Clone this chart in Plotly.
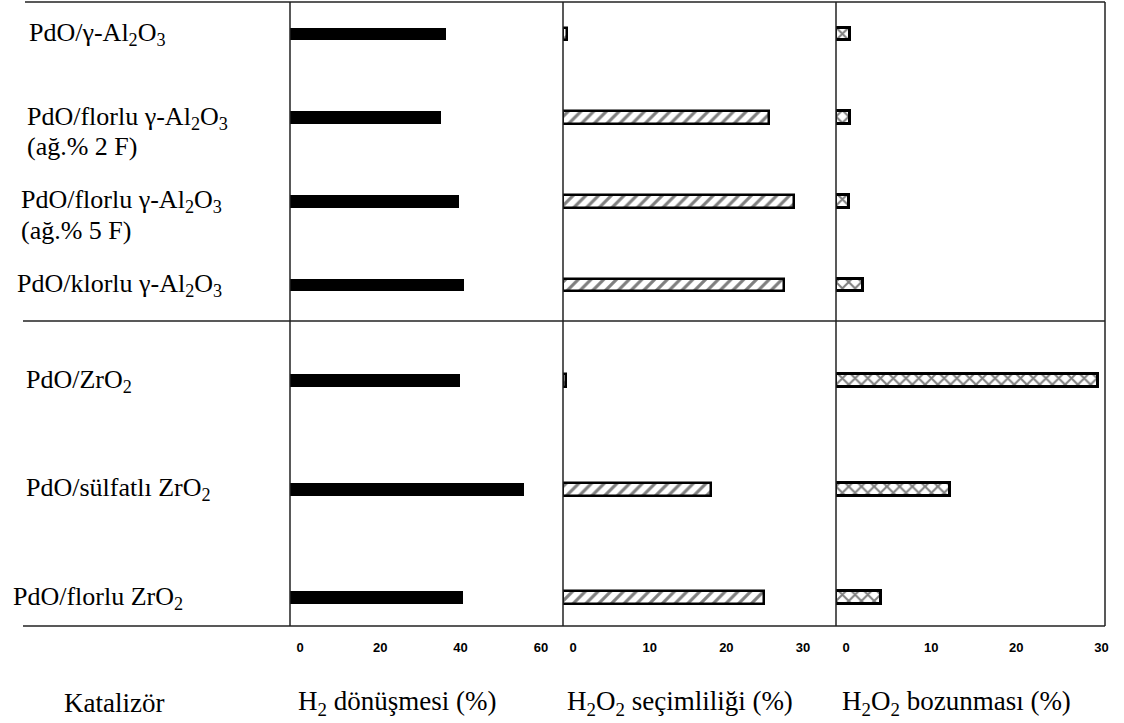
import plotly.graph_objects as go
from plotly.subplots import make_subplots

# ---- data ----
cats_top = ["PdO/γ-Al2O3", "PdO/florlu γ-Al2O3 (ağ.% 2 F)", "PdO/florlu γ-Al2O3 (ağ.% 5 F)", "PdO/klorlu γ-Al2O3"]
cats_bot = ["PdO/ZrO2", "PdO/sülfatlı ZrO2", "PdO/florlu ZrO2"]

labels_top = ["PdO/γ-Al<sub>2</sub>O<sub>3</sub>",
              "PdO/florlu γ-Al<sub>2</sub>O<sub>3</sub><br>(ağ.% 2 F)",
              "PdO/florlu γ-Al<sub>2</sub>O<sub>3</sub><br>(ağ.% 5 F)",
              "PdO/klorlu γ-Al<sub>2</sub>O<sub>3</sub>"]
labels_bot = ["PdO/ZrO<sub>2</sub>", "PdO/sülfatlı ZrO<sub>2</sub>", "PdO/florlu ZrO<sub>2</sub>"]

h2_conv_top = [38.9, 37.6, 42.1, 43.3]
h2_conv_bot = [42.3, 58.3, 43.1]
h2o2_sel_top = [0.5, 26.9, 30.1, 28.8]
h2o2_sel_bot = [0.4, 19.3, 26.2]
h2o2_dec_top = [1.6, 1.6, 1.5, 3.2]
h2o2_dec_bot = [30.8, 13.4, 5.3]

ticks_1 = [0, 20, 40, 60]
ticks_2 = [0, 10, 20, 30]
ticks_3 = [0, 10, 20, 30]

titles = ["Katalizör", "H<sub>2</sub> dönüşmesi (%)", "H<sub>2</sub>O<sub>2</sub> seçimliliği (%)",
          "H<sub>2</sub>O<sub>2</sub> bozunması (%)"]

# ---- layout geometry (pixels) ----
W, H = 1124, 723
L, R, T, B = 290, 1105, 2, 626
pw, ph = R - L, B - T
def px(x): return (x - L) / pw
def py(y): return (B - y) / ph

xs = [px(290), px(563), px(836), px(1105)]
ymid = py(321)

fig = make_subplots(rows=2, cols=3, shared_xaxes=False, horizontal_spacing=0, vertical_spacing=0)

serif = "Liberation Serif"
ranges = [[0, 68.0], [0, 35.6], [0, 31.6]]
tickvals = [ticks_1, ticks_2, ticks_3]

groups = [(cats_top, [h2_conv_top, h2o2_sel_top, h2o2_dec_top], 1, 0.15),
          (cats_bot, [h2_conv_bot, h2o2_sel_bot, h2o2_dec_bot], 2, 0.12)]

for cats, series, row, w in groups:
    for c, vals in enumerate(series):
        if c == 0:
            marker = dict(color="black", line=dict(color="black", width=0))
        elif c == 1:
            marker = dict(color="white", line=dict(color="black", width=2.5),
                          pattern=dict(shape="/", fgcolor="black", bgcolor="white", size=9, solidity=0.35))
        else:
            marker = dict(color="white", line=dict(color="black", width=3),
                          pattern=dict(shape="x", fgcolor="black", bgcolor="white", size=9, solidity=0.4))
        fig.add_trace(go.Bar(y=cats, x=vals, orientation="h", width=w, marker=marker,
                             showlegend=False), row=row, col=c + 1)

for c in range(3):
    for r in (1, 2):
        fig.update_xaxes(range=ranges[c], domain=[xs[c], xs[c + 1]], showgrid=False, zeroline=False,
                         showline=False, row=r, col=c + 1,
                         showticklabels=(r == 2), tickvals=tickvals[c], ticks="",
                         ticklabelshift=10, ticklabelstandoff=12,
                         tickfont=dict(family="Liberation Sans", size=13,
                                       color="black", weight="bold"))
    fig.update_yaxes(domain=[ymid, 1], range=[3.43, -0.38], showticklabels=False, showgrid=False,
                     zeroline=False, showline=False, row=1, col=c + 1)
    fig.update_yaxes(domain=[0, ymid], range=[2.26, -0.55], showticklabels=False, showgrid=False,
                     zeroline=False, showline=False, row=2, col=c + 1)

# frame lines
line = dict(color="#222", width=1.5)
shapes = []
for yy, x0 in [(1.0, px(25)), (ymid, px(23)), (0.0, px(23))]:
    shapes.append(dict(type="line", xref="paper", yref="paper", x0=x0, x1=1.0, y0=yy, y1=yy, line=line))
for xx in xs:
    shapes.append(dict(type="line", xref="paper", yref="paper", x0=xx, x1=xx, y0=0, y1=1.0, line=line))

annotations = []
label_left_top = [27, 25, 19, 15]
label_left_bot = [24, 24, 11]
for cats, labels, lefts, yref in [(cats_top, labels_top, label_left_top, "y"),
                                  (cats_bot, labels_bot, label_left_bot, "y4")]:
    for cat, lab, lx in zip(cats, labels, lefts):
        parts = lab.split("<br>")
        for k, part in enumerate(parts):
            annotations.append(dict(x=px(lx), xref="paper", y=cat, yref=yref, text=part, showarrow=False,
                                    xanchor="left", yanchor="middle", yshift=-29 * k, align="left",
                                    font=dict(family=serif, size=26, color="black")))

title_x = [62, 296, 565, 840]
for t, tx in zip(titles, title_x):
    annotations.append(dict(x=px(tx), xref="paper", y=py(703), yref="paper", text=t, showarrow=False,
                            xanchor="left", yanchor="middle",
                            font=dict(family=serif, size=27, color="black")))

fig.update_layout(width=W, height=H, margin=dict(l=L, r=W - R, t=T, b=H - B),
                  paper_bgcolor="white", plot_bgcolor="white", bargap=0,
                  shapes=shapes, annotations=annotations)

fig.write_html("out.html")
